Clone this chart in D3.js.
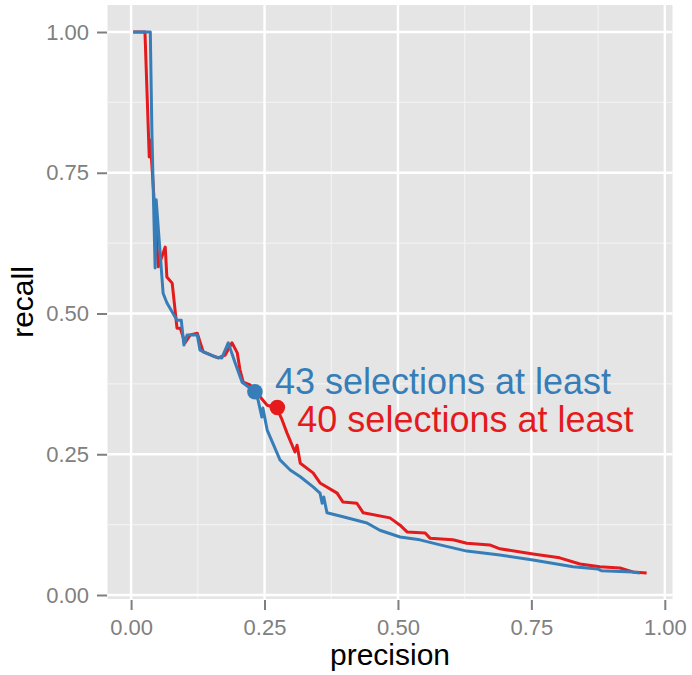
<!DOCTYPE html>
<html>
<head>
<meta charset="utf-8">
<script src="https://cdn.jsdelivr.net/npm/d3@7"></script>
<style>
  html, body { margin: 0; padding: 0; background: #ffffff; }
  svg { display: block; }
  text { font-family: "Liberation Sans", Arial, sans-serif; }
</style>
</head>
<body>
<svg id="chart" width="692" height="675"></svg>
<script>
// ---- data ----
const majorTicks = [0, 0.25, 0.5, 0.75, 1.0];
const minorTicks = [0.125, 0.375, 0.625, 0.875];
const tickLabels = ["0.00", "0.25", "0.50", "0.75", "1.00"];

const seriesNames = ["43 selections at least", "40 selections at least"];

const bluePrecision = [0.004,0.036,0.039,0.045,0.047,0.060,0.067,0.086,0.094,0.099,0.105,0.124,0.129,0.157,0.170,0.182,0.195,0.208,0.232,0.238,0.245,0.247,0.255,0.279,0.298,0.317,0.341,0.354,0.358,0.361,0.367,0.397,0.442,0.466,0.504,0.541,0.579,0.629,0.691,0.753,0.828,0.875,0.882,0.940,0.953];
const blueRecall    = [1.000,1.000,0.821,0.581,0.702,0.536,0.519,0.488,0.488,0.444,0.462,0.462,0.435,0.423,0.421,0.448,0.412,0.378,0.361,0.346,0.316,0.332,0.293,0.240,0.222,0.210,0.192,0.181,0.163,0.174,0.146,0.139,0.128,0.115,0.103,0.098,0.089,0.078,0.071,0.062,0.050,0.046,0.043,0.041,0.039];

const redPrecision = [0.004,0.026,0.034,0.036,0.051,0.064,0.067,0.077,0.086,0.092,0.101,0.111,0.124,0.135,0.163,0.176,0.189,0.199,0.204,0.210,0.223,0.255,0.273,0.283,0.292,0.307,0.311,0.317,0.341,0.354,0.386,0.397,0.423,0.435,0.485,0.504,0.517,0.551,0.560,0.603,0.629,0.672,0.691,0.753,0.803,0.841,0.878,0.916,0.940,0.966];
const redRecall    = [1.000,1.000,0.778,0.808,0.583,0.618,0.565,0.554,0.474,0.474,0.448,0.462,0.465,0.432,0.421,0.426,0.448,0.430,0.400,0.378,0.373,0.337,0.332,0.311,0.288,0.254,0.266,0.234,0.217,0.199,0.181,0.165,0.163,0.146,0.137,0.124,0.112,0.110,0.101,0.098,0.092,0.089,0.082,0.073,0.066,0.055,0.050,0.048,0.041,0.039];

// highlighted points (precision, recall)
const markPrecision = [0.232, 0.274];
const markRecall    = [0.361, 0.333];

const colors = ["#377EB8", "#E41A1C"];

// ---- layout ----
const svg = d3.select("#chart");
const panel = { left: 107.5, right: 672.5, top: 5, bottom: 599 };

const x = d3.scaleLinear().domain([-0.0442, 1.0144]).range([panel.left, panel.right]);
const y = d3.scaleLinear().domain([-0.0071, 1.048]).range([panel.bottom, panel.top]);

// panel background
svg.append("rect")
  .attr("x", panel.left).attr("y", panel.top)
  .attr("width", panel.right - panel.left).attr("height", panel.bottom - panel.top)
  .attr("fill", "#E5E5E5");

const grid = svg.append("g");
// minor grid
minorTicks.forEach(t => {
  grid.append("line").attr("x1", x(t)).attr("x2", x(t)).attr("y1", panel.top).attr("y2", panel.bottom)
    .attr("stroke", "#F2F2F2").attr("stroke-width", 1.2);
  grid.append("line").attr("y1", y(t)).attr("y2", y(t)).attr("x1", panel.left).attr("x2", panel.right)
    .attr("stroke", "#F2F2F2").attr("stroke-width", 1.2);
});
// major grid
majorTicks.forEach(t => {
  grid.append("line").attr("x1", x(t)).attr("x2", x(t)).attr("y1", panel.top).attr("y2", panel.bottom)
    .attr("stroke", "#FFFFFF").attr("stroke-width", 2.4);
  grid.append("line").attr("y1", y(t)).attr("y2", y(t)).attr("x1", panel.left).attr("x2", panel.right)
    .attr("stroke", "#FFFFFF").attr("stroke-width", 2.4);
});

// axes
const xAxis = d3.axisBottom(x).tickValues(majorTicks).tickFormat((d, i) => tickLabels[i])
  .tickSizeInner(10).tickSizeOuter(0).tickPadding(9);
const yAxis = d3.axisLeft(y).tickValues(majorTicks).tickFormat((d, i) => tickLabels[i])
  .tickSizeInner(10).tickSizeOuter(0).tickPadding(8);

const gx = svg.append("g").attr("transform", `translate(0,${panel.bottom + 1})`).call(xAxis);
const gy = svg.append("g").attr("transform", `translate(${panel.left - 0.5},0)`).call(yAxis);
[gx, gy].forEach(g => {
  g.select(".domain").remove();
  g.selectAll(".tick line").attr("stroke", "#7F7F7F").attr("stroke-width", 2);
  g.selectAll(".tick text").attr("fill", "#808080").style("font-size", "22px")
    .style("font-family", "'Liberation Sans', Arial, sans-serif");
});

// lines
const line = d3.line().x(d => x(d[0])).y(d => y(d[1]));
const redData = redPrecision.map((p, i) => [p, redRecall[i]]);
const blueData = bluePrecision.map((p, i) => [p, blueRecall[i]]);

svg.append("path").datum(redData).attr("d", line)
  .attr("fill", "none").attr("stroke", colors[1]).attr("stroke-width", 3).attr("stroke-linejoin", "round");
svg.append("path").datum(blueData).attr("d", line)
  .attr("fill", "none").attr("stroke", colors[0]).attr("stroke-width", 3).attr("stroke-linejoin", "round");

// highlighted points
markPrecision.forEach((p, i) => {
  svg.append("circle").attr("cx", x(p)).attr("cy", y(markRecall[i])).attr("r", 7.8)
    .attr("fill", colors[i]);
});

// annotations
svg.append("text").attr("x", x(markPrecision[0]) + 20).attr("y", y(markRecall[0]) + 2)
  .attr("fill", colors[0]).style("font-size", "36px").text(seriesNames[0]);
svg.append("text").attr("x", x(markPrecision[1]) + 20).attr("y", y(markRecall[1]) + 24)
  .attr("fill", colors[1]).style("font-size", "36px").text(seriesNames[1]);

// axis titles
svg.append("text").attr("x", (panel.left + panel.right) / 2).attr("y", 665)
  .attr("text-anchor", "middle").attr("fill", "#000").style("font-size", "30px").text("precision");
svg.append("text").attr("transform", `translate(33,${(panel.top + panel.bottom) / 2}) rotate(-90)`)
  .attr("text-anchor", "middle").attr("fill", "#000").style("font-size", "30px").text("recall");
</script>
</body>
</html>
